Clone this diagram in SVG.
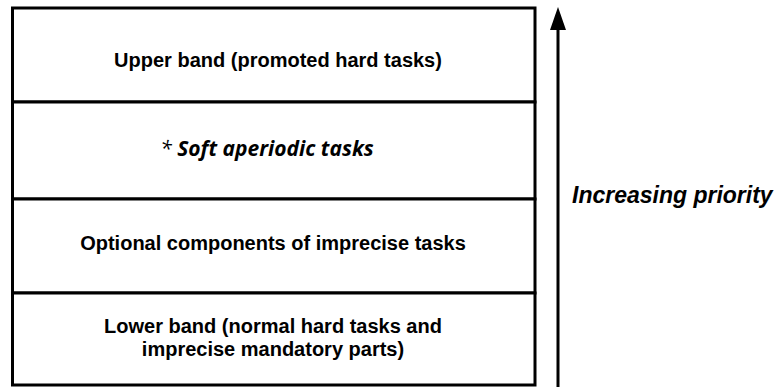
<svg xmlns="http://www.w3.org/2000/svg" width="777" height="387" viewBox="0 0 777 387">
<style>
.band{fill:#fff;stroke:#000;stroke-width:3}
.t{font-family:"Liberation Sans",Arial,sans-serif;font-weight:bold;font-size:20px;text-anchor:middle;fill:#000}
.s{font-family:"Open Sans",sans-serif;font-weight:700;font-style:italic;font-size:21px;text-anchor:middle;fill:#000}
.a{font-weight:400}
.p{font-family:"Liberation Sans",Arial,sans-serif;font-weight:bold;font-style:italic;font-size:23px;fill:#000}
</style>
<g id="upper"><rect class="band" x="12.5" y="8" width="522.5" height="94"/><text class="t" x="278" y="67">Upper band (promoted hard tasks)</text></g>
<g id="soft"><rect class="band" x="12.5" y="102" width="522.5" height="97"/><text class="s" x="267" y="156"><tspan class="a">*</tspan> Soft aperiodic tasks</text></g>
<g id="optional"><rect class="band" x="12.5" y="199" width="522.5" height="94"/><text class="t" x="273" y="250">Optional components of imprecise tasks</text></g>
<g id="lower"><rect class="band" x="12.5" y="293" width="522.5" height="92"/><text class="t" x="273" y="333">Lower band (normal hard tasks and</text><text class="t" x="273" y="356">imprecise mandatory parts)</text></g>
<g id="connectors"><line x1="558" y1="387" x2="558" y2="28" stroke="#000" stroke-width="3"/><path d="M558,7 L550,30 L566,30 z" fill="#000"/></g>
<g id="label"><text class="p" x="572" y="203">Increasing priority</text></g>
</svg>
